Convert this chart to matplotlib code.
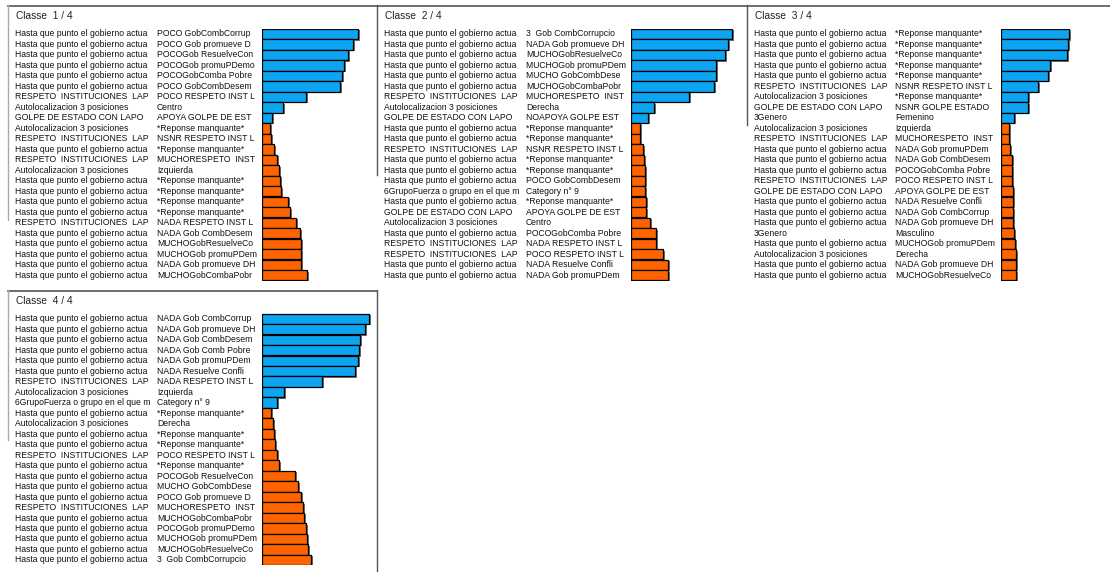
import matplotlib
matplotlib.use("Agg")
import matplotlib.pyplot as plt
import matplotlib.patheffects as pe
from matplotlib.transforms import blended_transform_factory

plt.rcParams['font.family'] = ['Liberation Sans', 'DejaVu Sans']

H = "Hasta que punto el gobierno actua"
R = "RESPETO  INSTITUCIONES  LAP"
A = "Autolocalizacion 3 posiciones"
G = "GOLPE DE ESTADO CON LAPO"
F = "6GrupoFuerza o grupo en el que m"
S = "3Genero"
RM = "*Reponse manquante*"

titles = ["Classe  1 / 4", "Classe  2 / 4", "Classe  3 / 4", "Classe  4 / 4"]

# Panel 1
vars1 = [H, H, H, H, H, H, R, A, G, A, R, H, R, A, H, H, H, H, R, H, H, H, H, H]
mods1 = ["POCO GobCombCorrup", "POCO Gob promueve D", "POCOGob ResuelveCon", "POCOGob promuPDemo",
         "POCOGobComba Pobre", "POCO GobCombDesem", "POCO RESPETO INST L", "Centro",
         "APOYA GOLPE DE EST", RM, "NSNR RESPETO INST L", RM, "MUCHORESPETO  INST", "Izquierda",
         RM, RM, RM, RM, "NADA RESPETO INST L", "NADA Gob CombDesem", "MUCHOGobResuelveCo",
         "MUCHOGob promuPDem", "NADA Gob promueve DH", "MUCHOGobCombaPobr"]
vals1 = [96, 91, 86, 82, 80, 78, 44, 21, 10, 8, 9, 12, 15, 17, 18, 19, 26, 28, 34, 38, 39, 39, 39, 45]
nblue1 = 9

# Panel 2
vars2 = [H, H, H, H, H, H, R, A, G, H, H, R, H, H, H, F, H, G, A, H, R, R, H, H]
mods2 = ["3  Gob CombCorrupcio", "NADA Gob promueve DH", "MUCHOGobResuelveCo", "MUCHOGob promuPDem",
         "MUCHO GobCombDese", "MUCHOGobCombaPobr", "MUCHORESPETO  INST", "Derecha",
         "NOAPOYA GOLPE EST", RM, RM, "NSNR RESPETO INST L", RM, RM, "POCO GobCombDesem",
         "Category n\u00b0 9", RM, "APOYA GOLPE DE EST", "Centro", "POCOGobComba Pobre",
         "NADA RESPETO INST L", "POCO RESPETO INST L", "NADA Resuelve Confli", "NADA Gob promuPDem"]
vals2 = [101, 97, 94, 85, 85, 83, 58, 23, 17, 9, 9, 12, 13, 14, 14, 14, 15, 15, 19, 25, 25, 32, 37, 37]
nblue2 = 9

# Panel 3
vars3 = [H, H, H, H, H, R, A, G, S, A, R, H, H, H, R, G, H, H, H, S, H, A, H, H]
mods3 = [RM, RM, RM, RM, RM, "NSNR RESPETO INST L", RM, "NSNR GOLPE ESTADO", "Femenino",
         "Izquierda", "MUCHORESPETO  INST", "NADA Gob promuPDem", "NADA Gob CombDesem",
         "POCOGobComba Pobre", "POCO RESPETO INST L", "APOYA GOLPE DE EST", "NADA Resuelve Confli",
         "NADA Gob CombCorrup", "NADA Gob promueve DH", "Masculino", "MUCHOGob promuPDem",
         "Derecha", "NADA Gob promueve DH", "MUCHOGobResuelveCo"]
vals3 = [68, 67, 66, 49, 47, 37, 27, 27, 13, 8, 8, 9, 11, 11, 11, 12, 12, 12, 12, 13, 14, 15, 15, 15]
nblue3 = 9

# Panel 4
vars4 = [H, H, H, H, H, H, R, A, F, H, A, H, H, R, H, H, H, H, R, H, H, H, H, H]
mods4 = ["NADA Gob CombCorrup", "NADA Gob promueve DH", "NADA Gob CombDesem", "NADA Gob Comb Pobre",
         "NADA Gob promuPDem", "NADA Resuelve Confli", "NADA RESPETO INST L", "Izquierda",
         "Category n\u00b0 9", RM, "Derecha", RM, RM, "POCO RESPETO INST L", RM,
         "POCOGob ResuelveCon", "MUCHO GobCombDese", "POCO Gob promueve D", "MUCHORESPETO  INST",
         "MUCHOGobCombaPobr", "POCOGob promuPDemo", "MUCHOGob promuPDem", "MUCHOGobResuelveCo",
         "3  Gob CombCorrupcio"]
vals4 = [107, 103, 98, 97, 96, 93, 60, 22, 15, 9, 11, 12, 13, 15, 17, 33, 36, 39, 41, 42, 44, 45, 46, 49]
nblue4 = 9

panels = [
    (titles[0], vars1, mods1, vals1, nblue1),
    (titles[1], vars2, mods2, vals2, nblue2),
    (titles[2], vars3, mods3, vals3, nblue3),
    (titles[3], vars4, mods4, vals4, nblue4),
]

W, HGT = 1110, 572
fig = plt.figure(figsize=(W / 100, HGT / 100), dpi=100)
fig.patch.set_facecolor('white')

# layout (pixels): panel left x, top y, first row center y
geom = [
    dict(x0=8, y0=5, row0=34.0, col1=15, col2=157, bar=262, right=377),
    dict(x0=378, y0=5, row0=34.0, col1=384, col2=526, bar=631, right=747),
    dict(x0=748, y0=5, row0=34.0, col1=754, col2=895, bar=1001, right=1110),
    dict(x0=8, y0=290, row0=318.7, col1=15, col2=157, bar=262, right=377),
]
step = 10.49
BLUE = '#0DA5F2'
ORANGE = '#FF6400'

def fx(px):
    return px / W

def fy(py):
    return 1 - py / HGT

for (title, vv, mm, vals, nb), g in zip(panels, geom):
    n = len(vals)
    top = g['row0'] - step / 2
    bot = g['row0'] + (n - 1) * step + step / 2
    ax = fig.add_axes([fx(g['bar']), fy(bot), fx(115), (bot - top) / HGT])
    ax.set_xlim(0, 115)
    ax.set_ylim(n - 0.5, -0.5)
    ax.axis('off')
    colors = [BLUE] * nb + [ORANGE] * (n - nb)
    bars = ax.barh(range(n), vals, height=0.98, color=colors, edgecolor='black', linewidth=0.9)
    for b in bars:
        b.set_path_effects([pe.SimplePatchShadow(offset=(1.2, -1.0), shadow_rgbFace=(0.45, 0.45, 0.45), alpha=1.0), pe.Normal()])
    tr = blended_transform_factory(fig.transFigure, ax.transData)
    for i, (v, m) in enumerate(zip(vv, mm)):
        ax.text(fx(g['col1']), i, v, transform=tr, fontsize=6.2, va='center', ha='left', color='#111111', clip_on=False)
        ax.text(fx(g['col2']), i, m, transform=tr, fontsize=6.2, va='center', ha='left', color='#111111', clip_on=False)
    fig.text(fx(g['col1'] + 1), fy(g['y0'] + 11), title, fontsize=7.3, va='center', ha='left', color='#222222')
    # panel top border
    fig.add_artist(plt.Line2D([fx(g['x0']), fx(g['right'])], [fy(g['y0'] + 0.5), fy(g['y0'] + 0.5)],
                              color='#555555', linewidth=1.2))

# partial frame lines
lines = [
    ((8, 5), (8, 220), '#aaaaaa'),
    ((377, 5), (377, 175), '#555555'),
    ((747, 5), (747, 125), '#555555'),
    ((8, 290), (8, 440), '#aaaaaa'),
    ((377, 290), (377, 572), '#555555'),
]
for (x1, y1), (x2, y2), c in lines:
    fig.add_artist(plt.Line2D([fx(x1), fx(x2)], [fy(y1), fy(y2)], color=c, linewidth=1.0))

fig.savefig('out.png', dpi=100, facecolor='white')
